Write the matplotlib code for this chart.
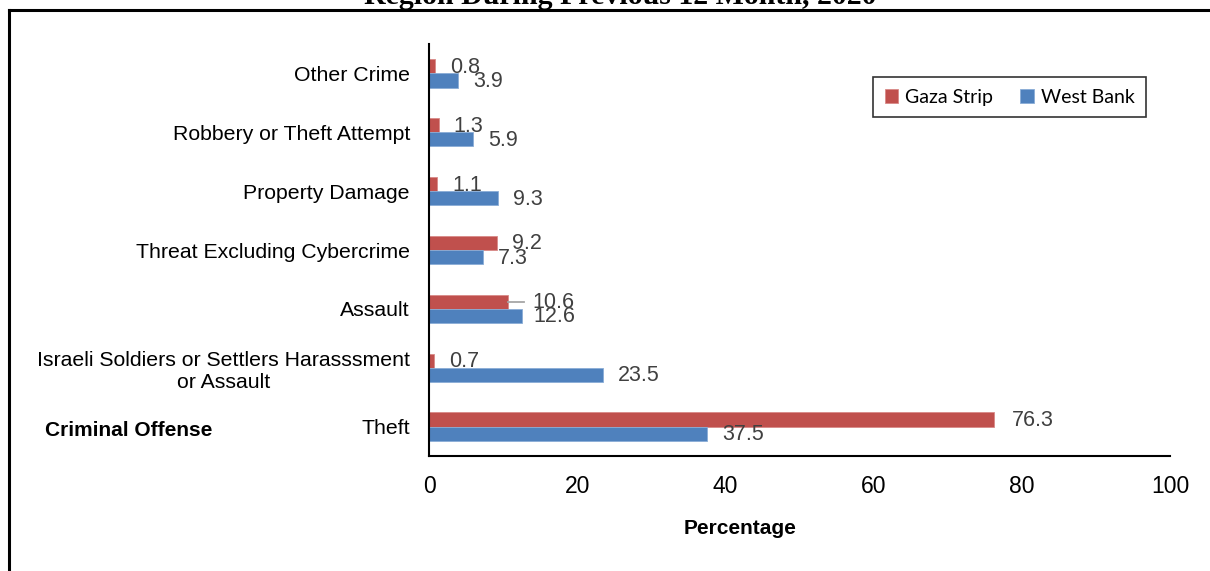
import matplotlib
matplotlib.use("Agg")
import matplotlib.pyplot as plt
from matplotlib.lines import Line2D
import numpy as np

# data, bottom to top as drawn
categories = ["Theft",
              "Israeli Soldiers or Settlers Harasssment\nor Assault",
              "Assault",
              "Threat Excluding Cybercrime",
              "Property Damage",
              "Robbery or Theft Attempt",
              "Other Crime"]
gaza = [76.3, 0.7, 10.6, 9.2, 1.1, 1.3, 0.8]
west_bank = [37.5, 23.5, 12.6, 7.3, 9.3, 5.9, 3.9]
x_ticks = [0, 20, 40, 60, 80, 100]

red = "#C0504D"
blue = "#4F81BD"
label_col = "#404040"

plt.rcParams["font.family"] = ["Liberation Sans", "DejaVu Sans"]

W, H = 1210, 571
fig = plt.figure(figsize=(W / 100, H / 100), dpi=100)
ax = fig.add_axes([429 / W, 1 - 456 / H, (1170 - 429) / W, (456 - 44) / H])

y = np.arange(len(categories))
h = 0.24
ax.barh(y + h / 2, gaza, height=h, color=red, edgecolor="#D98A88", linewidth=0.6, label="Gaza Strip")
ax.barh(y - h / 2, west_bank, height=h, color=blue, edgecolor="#8AADD6", linewidth=0.6, label="West Bank")

# data labels (Excel shifts a couple of them)
gaza_dx = {0: 17, 2: 25}
wb_dx = {2: 11}
for i in range(len(categories)):
    ax.annotate(f"{gaza[i]:.1f}", (gaza[i], y[i] + h / 2), xytext=(gaza_dx.get(i, 15), -1),
                textcoords="offset pixels", ha="left", va="center",
                fontsize=15.5, color=label_col)
    ax.annotate(f"{west_bank[i]:.1f}", (west_bank[i], y[i] - h / 2),
                xytext=(wb_dx.get(i, 15), -1), textcoords="offset pixels",
                ha="left", va="center", fontsize=15.5, color=label_col)

# leader line for the moved 10.6 label
ax.plot([gaza[2], gaza[2] + 2.2], [y[2] + h / 2, y[2] + h / 2], color="#A6A6A6", lw=1.3)

ax.set_xlim(0, 100)
ax.set_ylim(-0.5, len(categories) - 0.5)
ax.set_xticks(x_ticks)
ax.set_xticklabels([str(t) for t in x_ticks], fontsize=16.5)
ax.set_yticks(y)
ax.set_yticklabels(categories, fontsize=15.3, multialignment="center")
ax.tick_params(axis="both", length=0)
ax.tick_params(axis="x", pad=13.5)
ax.tick_params(axis="y", pad=13.7)
for s in ["top", "right"]:
    ax.spines[s].set_visible(False)
for s in ["left", "bottom"]:
    ax.spines[s].set_linewidth(1.5)
    ax.spines[s].set_color("black")

fig.text(740 / W, 1 - 528 / H, "Percentage", ha="center", va="center",
         fontsize=15, fontweight="bold")
fig.text(45 / W, 1 - 430 / H, "Criminal Offense", ha="left", va="center",
         fontsize=15, fontweight="bold")

# title, cut off by the crop
fig.text(620 / W, 1 - 4 / H, "Region During Previous 12 Month, 2020", ha="center",
         va="baseline", fontsize=21.5, fontweight="bold", family="Liberation Serif")

# page border
fig.add_artist(Line2D([9 / W, 9 / W], [0, 1 - 10 / H], transform=fig.transFigure,
                      color="black", lw=2.2))
fig.add_artist(Line2D([9 / W, 1], [1 - 10 / H, 1 - 10 / H], transform=fig.transFigure,
                      color="black", lw=2.2))

leg = fig.legend(loc="upper left", bbox_to_anchor=(873 / W, 1 - 77 / H), ncol=2,
                 frameon=True, fancybox=False, edgecolor="black",
                 prop={"family": "Lato", "size": 14}, handlelength=0.7,
                 handleheight=0.7, handletextpad=0.35, columnspacing=1.4,
                 borderpad=0.6, borderaxespad=0)
leg.get_frame().set_linewidth(1.2)

fig.savefig("out.png", dpi=100)
